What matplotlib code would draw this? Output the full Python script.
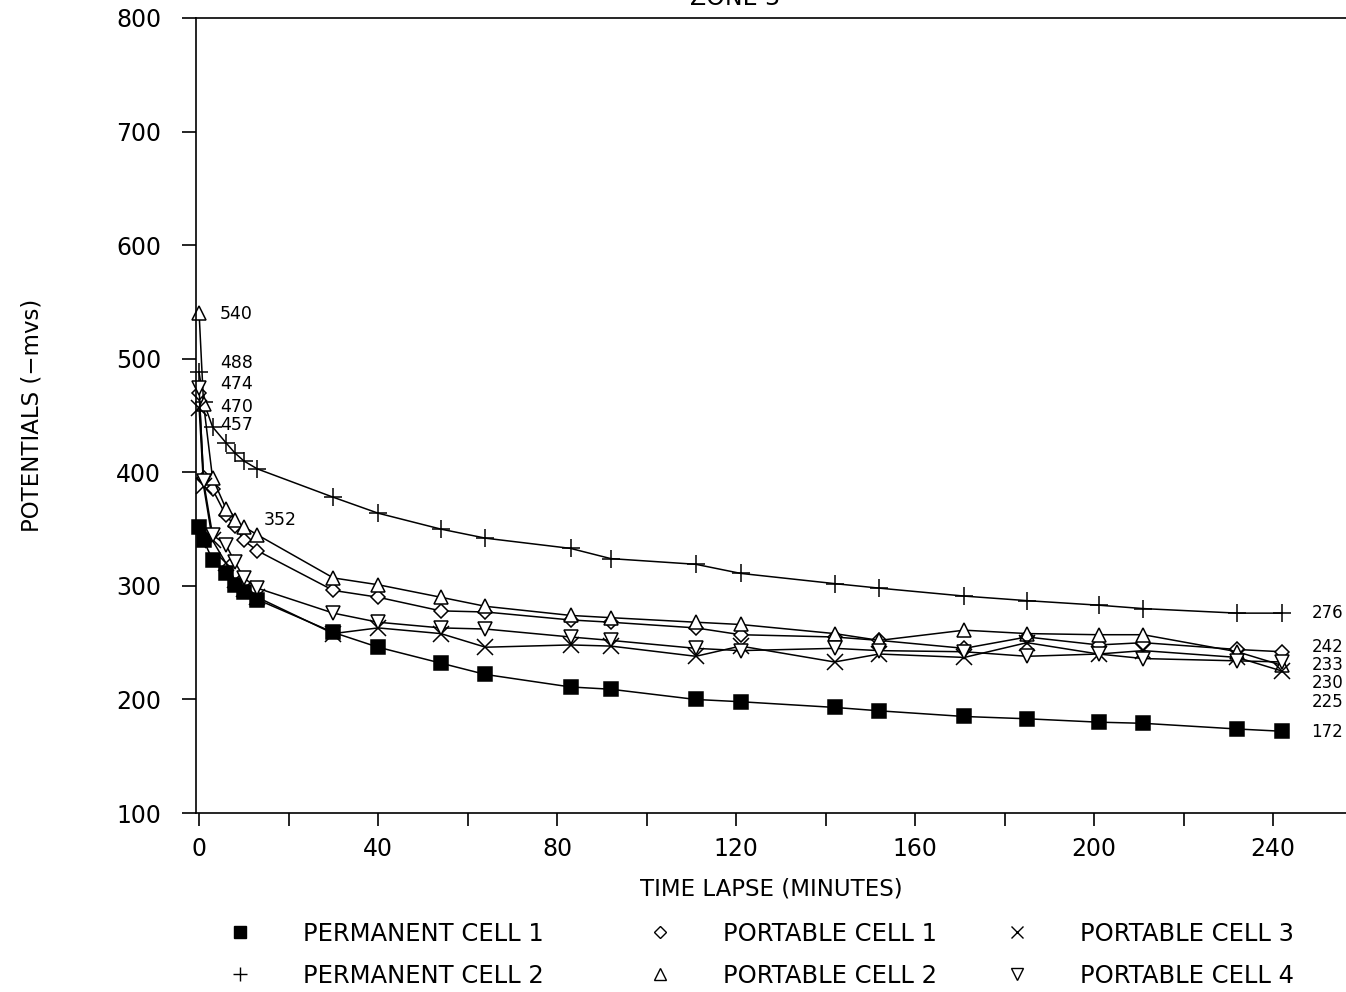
import matplotlib
matplotlib.use("Agg")
import matplotlib.pyplot as plt
from matplotlib.lines import Line2D

plt.rcParams['font.family'] = ['DejaVu Sans']

# ---- readings (potentials in -mV vs elapsed minutes) ----
minutes = [0, 1, 3, 6, 8, 10, 13, 30, 40, 54, 64, 83, 92, 111, 121,
           142, 152, 171, 185, 201, 211, 232, 242]

perm_cell_1 = [352, 340, 323, 311, 301, 295, 288, 259, 246, 232, 222, 211, 209,
               200, 198, 193, 190, 185, 183, 180, 179, 174, 172]
perm_cell_2 = [488, 462, 440, 426, 417, 410, 403, 378, 364, 350, 342, 333, 324,
               319, 311, 302, 298, 291, 287, 283, 280, 276, 276]
port_cell_1 = [470, 395, 385, 362, 353, 340, 331, 296, 290, 278, 277, 270, 268,
               263, 257, 255, 252, 245, 255, 248, 250, 244, 242]
port_cell_2 = [540, 460, 395, 368, 358, 352, 345, 307, 301, 290, 282, 274, 272,
               268, 266, 258, 252, 261, 258, 257, 257, 242, 230]
port_cell_3 = [457, 388, 340, 320, 305, 297, 290, 258, 263, 258, 246, 248, 247,
               238, 247, 233, 240, 237, 250, 240, 243, 237, 225]
port_cell_4 = [474, 392, 345, 336, 321, 307, 298, 276, 268, 263, 262, 255, 252,
               245, 243, 245, 243, 242, 238, 240, 236, 234, 233]

series_names = ["PERMANENT CELL 1", "PERMANENT CELL 2", "PORTABLE CELL 1",
                "PORTABLE CELL 2", "PORTABLE CELL 3", "PORTABLE CELL 4"]
series_values = [perm_cell_1, perm_cell_2, port_cell_1,
                 port_cell_2, port_cell_3, port_cell_4]

# marker style per series: (marker, size, filled)
styles = [("s", 10, True), ("+", 13, False), ("D", 7.5, False),
          ("^", 10, False), ("x", 11, False), ("v", 10, False)]

# where the start / end value tags sit (text positions only)
start_tag_x = [14.5, 4.7, 4.7, 4.7, 4.7, 4.7]
start_tag_y = [358, 496, 457.5, 539.5, 441.6, 477.7]
end_tag_y = [171.3, 276, 246, 214.5, 197.7, 230.3]

fig = plt.figure(figsize=(13.46, 9.92), dpi=100)
ax = fig.add_axes([0.1456, 0.1804, 0.8544, 0.8015])

for vals, (mk, ms, filled) in zip(series_values, styles):
    ax.plot(minutes, vals, color="black", linewidth=1.1, marker=mk,
            markersize=ms, markeredgewidth=1.1,
            markerfacecolor="black" if filled else "white",
            markeredgecolor="black", clip_on=False)

for vals, tx, ty in zip(series_values, start_tag_x, start_tag_y):
    ax.text(tx, ty, f"{vals[0]}", fontsize=12.5, va="center", ha="left")
for vals, ty in zip(series_values, end_tag_y):
    ax.text(248.6, ty, f"{vals[-1]}", fontsize=12, va="center", ha="left")

ax.set_xlim(-0.7, 256.3)
ax.set_ylim(100, 800)
ax.set_xticks(range(0, 241, 40))
ax.set_xticks(range(20, 241, 40), minor=True)
ax.set_yticks(range(100, 801, 100))
ax.tick_params(axis="y", which="both", direction="out", length=10,
               width=1.2, labelsize=17, pad=15)
ax.tick_params(axis="x", which="both", direction="out", length=9,
               width=1.2, labelsize=17, pad=8)
ax.spines["right"].set_visible(False)
for side in ("left", "bottom", "top"):
    ax.spines[side].set_linewidth(1.2)

ax.set_xlabel("TIME LAPSE (MINUTES)", fontsize=16.5, labelpad=12)
ax.set_ylabel("POTENTIALS (\u2212mvs)", fontsize=16.5, labelpad=52)

fig.text(0.546, 0.995, "ZONE 3", fontsize=17, ha="center", va="baseline")

# legend: three fixed columns of two entries each
handles = []
for name, (mk, ms, filled) in zip(series_names, styles):
    handles.append(Line2D([], [], linestyle="none", marker=mk, color="black",
                          markersize=ms * 0.8, markeredgewidth=1.0,
                          markerfacecolor="black" if filled else "white",
                          label=name))
col_x = [0.1694, 0.4814, 0.7467]
for i, x0 in enumerate(col_x):
    fig.legend(handles=handles[2 * i:2 * i + 2], loc="upper left",
               bbox_to_anchor=(x0, 0.071), frameon=False, fontsize=17.5,
               handlelength=1.0, handletextpad=2.1, labelspacing=0.75,
               borderpad=0, borderaxespad=0)

fig.savefig("out.png", dpi=100)
